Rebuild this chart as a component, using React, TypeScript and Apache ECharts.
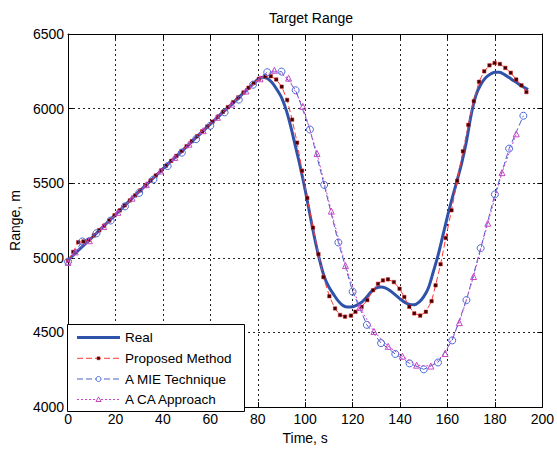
import React, { useEffect, useRef } from "react";
import * as echarts from "echarts";

const titleText = "Target Range";
const xName = "Time, s";
const yName = "Range, m";
const seriesNames = ["Real", "Proposed Method", "A MIE Technique", "A CA Approach"];

const realData: [number, number][] = [
  [0, 4985], [4, 5045], [8, 5105], [12, 5165], [16, 5228], [20, 5290], [25, 5368], [30, 5445],
  [35, 5520], [40, 5597], [45, 5672], [50, 5745], [55, 5822], [60, 5897], [65, 5972], [70, 6045],
  [74, 6105], [77, 6150], [80, 6195], [82, 6210], [84, 6202], [86, 6175], [88, 6130], [90, 6075],
  [92, 5990], [94, 5875], [96, 5740], [98, 5605], [100, 5455], [102, 5290], [104, 5130], [106, 4990],
  [108, 4875], [110, 4805], [112, 4755], [114, 4710], [116, 4680], [118, 4670], [120, 4672],
  [122, 4685], [124, 4705], [126, 4738], [128, 4775], [130, 4798], [132, 4805], [134, 4797],
  [136, 4778], [138, 4752], [140, 4725], [142, 4702], [144, 4688], [146, 4685], [148, 4703],
  [150, 4740], [152, 4800], [154, 4905], [156, 5015], [158, 5145], [160, 5278], [162, 5400],
  [164, 5515], [166, 5635], [168, 5780], [170, 5960], [172, 6090], [174, 6160], [176, 6205],
  [178, 6230], [180, 6244], [182, 6243], [184, 6228], [186, 6208], [188, 6186], [190, 6165],
  [192, 6145], [194, 6128],
];

const proposedData: [number, number][] = [
  [0, 4980], [2.2, 5040], [4.3, 5105], [6.5, 5110], [8.7, 5120], [10.9, 5150], [13.1, 5185],
  [15.2, 5215], [17.4, 5250], [19.6, 5285], [21.8, 5318], [23.9, 5352], [26.1, 5385], [28.3, 5418],
  [30.5, 5452], [32.6, 5485], [34.8, 5518], [37, 5552], [39.2, 5585], [41.3, 5617], [43.5, 5650],
  [45.7, 5683], [47.9, 5716], [50, 5748], [52.2, 5782], [54.4, 5815], [56.6, 5848], [58.7, 5880],
  [60.9, 5912], [63.1, 5945], [65.3, 5978], [67.4, 6010], [69.6, 6043], [71.8, 6075], [74, 6108],
  [76.1, 6140], [78.3, 6172], [80.5, 6200], [83.1, 6217], [85.5, 6217], [87.8, 6195], [90.1, 6147],
  [92.4, 6058], [94.5, 5926], [96.6, 5772], [98.7, 5584], [100.9, 5401], [103.3, 5202],
  [105.6, 5025], [107.7, 4871], [110.2, 4743], [112.6, 4661], [114.7, 4617], [116.8, 4606],
  [119.3, 4613], [121.2, 4639], [123.8, 4672], [126.2, 4717], [128.6, 4783], [130.7, 4826],
  [132.8, 4849], [134.9, 4856], [137.4, 4838], [139.8, 4793], [141.8, 4738], [143.9, 4672],
  [146, 4628], [148.5, 4613], [150.9, 4639], [153.3, 4710], [155, 4816], [157.1, 4957],
  [159.3, 5133], [161.7, 5319], [164.1, 5517], [166.5, 5714], [168.8, 5891], [171.1, 6050],
  [173.3, 6180], [175.5, 6250], [177.7, 6290], [179.9, 6306], [182.1, 6299], [184.4, 6273],
  [186.7, 6240], [189, 6195], [191.2, 6156], [193.3, 6111],
];

const mieData: [number, number][] = [
  [0, 4975], [6, 5110], [12, 5165], [18, 5250], [24, 5345], [30, 5435], [36, 5525], [42, 5615],
  [48, 5705], [54, 5795], [60, 5885], [66, 5975], [72, 6060], [78, 6160], [84, 6244], [90, 6248],
  [96, 6123], [102, 5860], [108, 5489], [114, 5103], [120, 4774], [126, 4551], [132, 4429],
  [138, 4356], [144, 4293], [150, 4253], [156, 4299], [162, 4447], [168, 4717], [174, 5065],
  [180, 5425], [186, 5732], [192, 5952],
];

const caData: [number, number][] = [
  [0, 4970], [3, 5040], [9, 5115], [15, 5210], [21, 5305], [27, 5400], [33, 5490], [39, 5582],
  [45, 5672], [51, 5762], [57, 5852], [63, 5942], [69, 6030], [75, 6118], [81, 6200], [87, 6257],
  [93, 6204], [99, 6015], [105, 5699], [111, 5313], [117, 4948], [123, 4668], [129, 4507],
  [135, 4407], [141, 4341], [147, 4281], [153, 4275], [159, 4359], [165, 4566], [171, 4875],
  [177, 5232], [183, 5571], [189, 5831],
];

const FONT = "'Liberation Sans', Arial, sans-serif";
const C_REAL = "#2f52aa";
const C_PROP = "#ff3a3a";
const C_MIE = "#4a62c8";
const C_CA = "#cc44cc";

export default function App() {
  const ref = useRef<HTMLDivElement>(null);
  useEffect(() => {
    if (!ref.current) return;
    const chart = echarts.init(ref.current, null, { renderer: "svg" });
    const gridLine = { show: true, lineStyle: { color: "#222", type: [2, 3] as any, width: 1 } };
    const baseX = { type: "value" as const, min: 0, max: 200, interval: 20 };
    const baseY = { type: "value" as const, min: 4000, max: 6500, interval: 500 };

    const rows = [337.5, 358.3, 379, 399.5];
    const lx1 = 77, lx2 = 120, lxm = 98.5, tx = 125;
    const Z = 100;
    const legendChildren: any[] = [
      {
        type: "rect",
        z: Z,
        shape: { x: 67.5, y: 324.5, width: 177, height: 87 },
        style: { fill: "#fff", stroke: "#000", lineWidth: 1 },
      },
      { type: "line", z: Z + 1, shape: { x1: lx1, y1: rows[0], x2: lx2, y2: rows[0] }, style: { stroke: C_REAL, lineWidth: 3 } },
      { type: "line", z: Z + 1, shape: { x1: lx1, y1: rows[1], x2: lx2, y2: rows[1] }, style: { stroke: C_PROP, lineWidth: 1, lineDash: [6, 3] } },
      { type: "rect", z: Z + 2, shape: { x: lxm - 1.5, y: rows[1] - 1.5, width: 3, height: 3 }, style: { fill: "#3a0000", stroke: "#e02020", lineWidth: 0.5 } },
      { type: "line", z: Z + 1, shape: { x1: lx1, y1: rows[2], x2: lx2, y2: rows[2] }, style: { stroke: C_MIE, lineWidth: 1, lineDash: [6, 3] } },
      { type: "circle", z: Z + 2, shape: { cx: lxm, cy: rows[2], r: 2.5 }, style: { fill: "#fff", stroke: "#4a6ad8", lineWidth: 1 } },
      { type: "line", z: Z + 1, shape: { x1: lx1, y1: rows[3], x2: lx2, y2: rows[3] }, style: { stroke: C_CA, lineWidth: 1, lineDash: [2, 2] } },
      { type: "polygon", z: Z + 2, shape: { points: [[lxm, rows[3] - 2.6], [lxm + 2.6, rows[3] + 2], [lxm - 2.6, rows[3] + 2]] }, style: { fill: "#fff", stroke: "#c848c8", lineWidth: 1 } },
    ];
    seriesNames.forEach((n, i) => {
      legendChildren.push({
        type: "text",
        z: Z + 2,
        x: tx,
        y: rows[i],
        style: { text: n, fontFamily: FONT, fontSize: 13.5, fill: "#000", verticalAlign: "middle", align: "left" },
      });
    });

    chart.setOption({
      animation: false,
      backgroundColor: "#fff",
      title: {
        text: titleText,
        left: 306,
        top: 6,
        textAlign: "center",
        textStyle: { fontFamily: FONT, fontSize: 14, fontWeight: "normal", color: "#000" },
      },
      grid: { left: 66, right: 10, top: 34, bottom: 38, show: false },
      graphic: legendChildren,
      xAxis: [
        {
          ...baseX,
          position: "bottom",
          name: xName,
          nameLocation: "middle",
          nameGap: 22,
          nameTextStyle: { fontFamily: FONT, fontSize: 14, color: "#000" },
          axisLine: { show: true, lineStyle: { color: "#000", width: 1 } },
          axisTick: { show: true, inside: true, length: 5, lineStyle: { color: "#000" } },
          axisLabel: { fontFamily: FONT, fontSize: 14, color: "#000", margin: 5 },
          splitLine: gridLine,
        },
        {
          ...baseX,
          position: "top",
          axisLine: { show: true, onZero: false, lineStyle: { color: "#000", width: 1 } },
          axisTick: { show: true, inside: true, length: 5, lineStyle: { color: "#000" } },
          axisLabel: { show: false },
          splitLine: { show: false },
        },
      ],
      yAxis: [
        {
          ...baseY,
          position: "left",
          name: yName,
          nameLocation: "middle",
          nameGap: 43,
          nameTextStyle: { fontFamily: FONT, fontSize: 14, color: "#000" },
          axisLine: { show: true, onZero: false, lineStyle: { color: "#000", width: 1 } },
          axisTick: { show: true, inside: true, length: 5, lineStyle: { color: "#000" } },
          axisLabel: { fontFamily: FONT, fontSize: 14, color: "#000", margin: 4, formatter: (v: number) => String(v) },
          splitLine: gridLine,
        },
        {
          ...baseY,
          position: "right",
          axisLine: { show: true, onZero: false, lineStyle: { color: "#000", width: 1 } },
          axisTick: { show: true, inside: true, length: 5, lineStyle: { color: "#000" } },
          axisLabel: { show: false },
          splitLine: { show: false },
        },
      ],
      series: [
        {
          name: seriesNames[0],
          type: "line",
          data: realData,
          symbol: "none",
          smooth: 0.3,
          lineStyle: { color: C_REAL, width: 3 },
          itemStyle: { color: C_REAL },
          z: 2,
        },
        {
          name: seriesNames[1],
          type: "line",
          data: proposedData,
          symbol: "rect",
          symbolSize: 3.5,
          showAllSymbol: true,
          lineStyle: { color: C_PROP, width: 1, type: [6, 3] },
          itemStyle: { color: "#3a0000", borderColor: "#e02020", borderWidth: 0.5 },
          z: 3,
        },
        {
          name: seriesNames[2],
          type: "line",
          data: mieData,
          symbol: "circle",
          symbolSize: 7,
          showAllSymbol: true,
          lineStyle: { color: C_MIE, width: 1, type: [6, 3] },
          itemStyle: { color: "rgba(255,255,255,0)", borderColor: "#4a6ad8", borderWidth: 1 },
          z: 4,
        },
        {
          name: seriesNames[3],
          type: "line",
          data: caData,
          symbol: "triangle",
          symbolSize: 6,
          showAllSymbol: true,
          lineStyle: { color: C_CA, width: 1, type: [2, 2] },
          itemStyle: { color: "rgba(255,255,255,0)", borderColor: "#c848c8", borderWidth: 1 },
          z: 5,
        },
      ],
    });
    return () => chart.dispose();
  }, []);
  return <div ref={ref} style={{ width: 557, height: 450, position: "absolute", left: 0, top: 0 }} />;
}
